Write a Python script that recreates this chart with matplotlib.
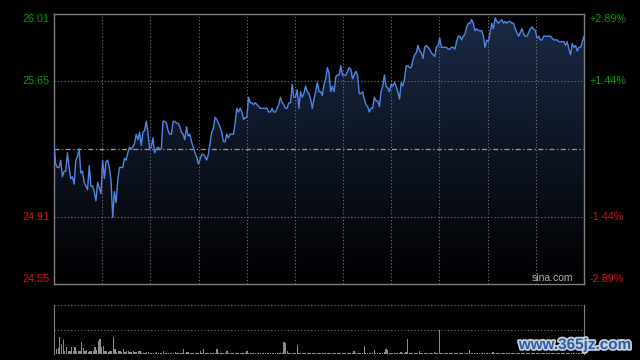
import numpy as np
import matplotlib.pyplot as plt
import matplotlib.patheffects as pe
from matplotlib.colors import LinearSegmentedColormap
import matplotlib.transforms as mtransforms

plt.rcParams['font.family'] = ['Liberation Sans', 'DejaVu Sans']

# intraday price, one value per minute
price = [
    25.31, 25.20, 25.18, 25.18, 25.22, 25.13, 25.16, 25.16, 25.26, 25.18,
    25.12, 25.13, 25.09, 25.22, 25.24, 25.28, 25.15, 25.16, 25.10, 25.08,
    25.06, 25.19, 25.08, 25.08, 25.05, 25.00, 25.10, 25.07, 25.04, 25.22,
    25.12, 25.21, 25.22, 25.18, 25.11, 24.91, 25.05, 24.99, 25.11, 25.18,
    25.18, 25.18, 25.23, 25.22, 25.26, 25.29, 25.28, 25.29, 25.31, 25.36,
    25.33, 25.37, 25.30, 25.37, 25.38, 25.43, 25.37, 25.28, 25.29, 25.34,
    25.26, 25.28, 25.29, 25.28, 25.28, 25.43, 25.43, 25.42, 25.38, 25.36,
    25.36, 25.43, 25.43, 25.42, 25.42, 25.40, 25.37, 25.36, 25.33, 25.40,
    25.35, 25.36, 25.32, 25.29, 25.26, 25.24, 25.20, 25.22, 25.25, 25.25,
    25.24, 25.22, 25.25, 25.31, 25.37, 25.39, 25.45, 25.44, 25.42, 25.40,
    25.37, 25.32, 25.32, 25.36, 25.34, 25.36, 25.36, 25.36, 25.42, 25.50,
    25.48, 25.50, 25.48, 25.44, 25.45, 25.45, 25.56, 25.53, 25.53, 25.52,
    25.53, 25.52, 25.51, 25.50, 25.50, 25.50, 25.50, 25.50, 25.48, 25.48,
    25.50, 25.48, 25.48, 25.50, 25.52, 25.56, 25.53, 25.52, 25.50, 25.50,
    25.53, 25.53, 25.63, 25.56, 25.56, 25.60, 25.50, 25.59, 25.56, 25.58,
    25.62, 25.59, 25.58, 25.55, 25.50, 25.55, 25.59, 25.64,
    25.59, 25.59, 25.57, 25.63, 25.66, 25.72, 25.69, 25.59, 25.62, 25.59,
    25.67, 25.68, 25.68, 25.73, 25.68, 25.68, 25.68, 25.70, 25.72, 25.71,
    25.66, 25.68, 25.70, 25.68, 25.58, 25.58, 25.59, 25.55, 25.52, 25.51,
    25.48, 25.50, 25.50, 25.56, 25.54, 25.54, 25.51, 25.59, 25.62, 25.68,
    25.62, 25.61, 25.59, 25.63, 25.62, 25.64, 25.62, 25.59, 25.55, 25.64,
    25.62, 25.66, 25.73, 25.73, 25.72, 25.72, 25.76, 25.79, 25.80, 25.84,
    25.81, 25.80, 25.77, 25.83, 25.84, 25.83, 25.82, 25.80, 25.79, 25.78,
    25.83, 25.84, 25.88, 25.83, 25.83, 25.83,
    25.83, 25.82, 25.82, 25.83, 25.83, 25.82, 25.86, 25.89, 25.89, 25.87,
    25.89, 25.90, 25.94, 25.96, 25.96, 25.98, 25.96, 25.92, 25.93, 25.92,
    25.92, 25.92, 25.89, 25.83, 25.87, 25.86, 25.91, 25.96, 25.93, 25.99,
    25.97, 25.96, 25.97, 25.98, 25.96, 25.97, 25.96, 25.97, 25.97, 25.96,
    25.96, 25.93, 25.91, 25.89, 25.91, 25.93, 25.90, 25.89, 25.89, 25.91,
    25.93, 25.94, 25.93, 25.92, 25.88, 25.89, 25.87, 25.87, 25.89, 25.89,
    25.89, 25.89, 25.89, 25.88, 25.87, 25.87, 25.87, 25.86, 25.86, 25.86,
    25.86, 25.84, 25.86, 25.82, 25.79, 25.85, 25.83, 25.84, 25.81, 25.83,
    25.83, 25.86, 25.89,
]

# volume per minute (hundreds of shares)
volume = [
    1270, 500, 600, 1670, 1000, 1400, 300, 700, 270, 270,
    670, 270, 670, 330, 270, 270, 1170, 600, 330, 430,
    200, 270, 270, 330, 700, 400, 1270, 1500, 700, 830,
    330, 270, 170, 270, 270, 1670, 500, 200, 330, 330,
    170, 500, 170, 270, 330, 150, 170, 270, 200, 170,
    270, 330, 100, 100,
    100, 170, 200, 100, 70, 130, 100, 200, 100, 70, 130, 270, 100, 70, 100, 130, 70, 100, 170, 100,
    70, 100, 130, 500, 100, 170, 170, 70, 100, 130, 100, 70, 100, 330, 130, 500, 100, 70, 130, 100,
    70, 100, 130, 500, 130, 100, 70, 100, 130, 270, 100, 70, 100, 70, 130, 100, 70, 100, 70, 100,
    130, 330, 100, 70, 100, 130, 70, 100, 70, 100, 130, 70, 100, 70, 100, 70, 130, 100, 70, 100,
    70, 100, 130, 1170, 1100, 330, 100, 70, 130, 100, 70, 870, 130, 100, 70, 100, 130, 70, 100, 70,
    100, 130, 70, 100, 70, 130, 100, 70, 100, 130, 70, 100, 70, 100, 130, 70, 100, 70, 130, 100,
    70, 100, 130, 70, 100, 330, 100, 70, 130, 100, 70, 770, 130, 100, 70, 100, 130, 430, 100, 70,
    130, 100, 70, 170, 530, 400, 130, 100, 70, 100, 130, 70, 100, 170, 100, 130, 170, 1530, 130, 100,
    70, 130, 100, 70, 330, 100, 130, 100, 70, 100, 130, 70, 100, 170, 100, 130, 2430, 100, 130, 70,
    100, 130, 70, 100, 130, 70, 100, 130, 100, 70, 100, 130, 70, 100, 430, 100, 70, 130, 100, 70,
    100, 130, 70, 100, 70, 130, 100, 70, 170, 100, 70, 130, 100, 70, 100, 130, 70, 100, 70, 130,
    100, 70, 100, 130, 70, 100, 70, 130, 100, 70, 100, 130, 70, 100, 70, 100, 130, 70, 100, 70,
    130, 100, 70, 100, 130, 70, 100, 70, 130, 100, 70, 100, 130, 70, 100, 70, 130, 100, 70, 100,
    130, 100, 170,
]

prev_close = 25.28
y_levels = [26.01, 25.65, 24.91, 24.55]
left_labels = ['26.01', '25.65', '24.91', '24.55']
right_labels = ['+2.89%', '+1.44%', '-1.44%', '-2.89%']

n = len(price)
t = np.arange(n)
ymin, ymax = y_levels[-1], y_levels[0]

fig = plt.figure(figsize=(6.4, 3.6), dpi=100, facecolor='black')
ax = fig.add_axes([54/640, 76/360, 530/640, 270/360], facecolor='black')

# gradient fill under the price line
cmap = LinearSegmentedColormap.from_list('fill', ['#000000', '#1b2a46'])
grad = np.linspace(0, 1, 256).reshape(-1, 1)
im = ax.imshow(grad, cmap=cmap, aspect='auto', origin='lower',
               extent=[0, n - 1, ymin, ymax], zorder=1)
poly = ax.fill_between(t, price, ymin, color='none', lw=0)
im.set_clip_path(poly.get_paths()[0], transform=ax.transData)

grid_kw = dict(color='#777777', lw=0.8, ls=(0, (1, 2)), zorder=2)
for v in y_levels[1:3]:
    ax.axhline(v, **grid_kw)
for xv in np.linspace(0, n - 1, 12)[1:-1]:
    ax.axvline(xv, **grid_kw)
ax.axhline(prev_close, color='#9a9a9a', lw=0.9, ls=(0, (4, 2, 1, 2)), zorder=2)

ax.plot(t, price, color='#4f86e3', lw=1.0, zorder=3)

ax.set_xlim(0, n - 1)
ax.set_ylim(ymin, ymax)
ax.set_xticks([])
ax.set_yticks([])
for s in ax.spines.values():
    s.set_color('#808080')
    s.set_linewidth(1)

trans = mtransforms.blended_transform_factory(ax.transAxes, ax.transData)
vas = ['top', 'center', 'center', 'bottom']
cols = ['#00a000', '#00a000', '#d01818', '#d01818']
for v, lt, rt, va, c in zip(y_levels, left_labels, right_labels, vas, cols):
    ax.text(-0.008, v, lt, transform=trans, ha='right', va=va, color=c, fontsize=7.8)
    ax.text(1.011, v, rt, transform=trans, ha='left', va=va, color=c, fontsize=7.8)

ax.text(0.979, 0.005, 'sina.com', transform=ax.transAxes, ha='right', va='bottom',
        color='#b0b0b0', fontsize=7.5, zorder=4)

# volume panel
ax2 = fig.add_axes([54/640, 6/360, 530/640, 49/360], facecolor='black')
tv = np.arange(len(volume))
ax2.bar(tv, volume, width=0.75, color='#8c8c8c', lw=0)
vmax = max(volume)
ax2.set_xlim(-0.5, n - 0.5)
ax2.set_ylim(0, 2 * vmax)
ax2.axhline(vmax, **grid_kw)
ax2.axhline(2 * vmax, color='#777777', lw=0.8, ls=(0, (1, 2)), clip_on=False)
ax2.set_xticks([])
ax2.set_yticks([])
for k in ['top', 'bottom']:
    ax2.spines[k].set_visible(False)
for k in ['left', 'right']:
    ax2.spines[k].set_color('#808080')

fig.text(575/640, 1 - 345/360, 'www.365jz.com', ha='center', va='center',
         color='#2b5ea8', fontsize=11, fontweight='bold',
         path_effects=[pe.withStroke(linewidth=2.5, foreground='#c8d0dc')])

fig.savefig('out.png', dpi=100, facecolor='black')
